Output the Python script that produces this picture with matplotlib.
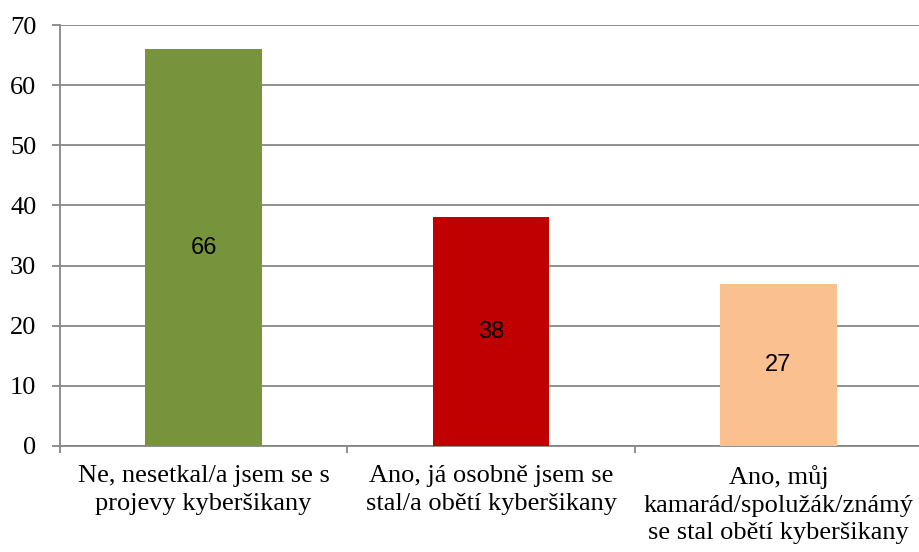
import matplotlib
matplotlib.use("Agg")
import matplotlib.pyplot as plt
from matplotlib.ticker import FixedLocator, NullFormatter

categories = ["Ne, nesetkal/a jsem se s\nprojevy kyberšikany",
              "Ano, já osobně jsem se\nstal/a obětí kyberšikany",
              "Ano, můj\nkamarád/spolužák/známý\nse stal obětí kyberšikany"]
values = [66, 38, 27]
colors = ["#77933C", "#C00000", "#FAC090"]
yticks = [0, 10, 20, 30, 40, 50, 60, 70]

fig = plt.figure(figsize=(9.2, 5.52), dpi=100)
ax = fig.add_axes([60/920, 106/552, 862/920, 421/552])
x = list(range(len(categories)))
bars = ax.bar(x, values, width=0.405, color=colors, zorder=3)
for xi, v in zip(x, values):
    ax.text(xi, v/2, str(v), ha="center", va="center", fontsize=17,
            family="Liberation Sans", color="black", zorder=4)

ax.set_xlim(-0.5, 2.5)
ax.set_ylim(0, 70)
ax.set_yticks(yticks)
ax.set_yticklabels([str(t) for t in yticks], family="Liberation Serif", fontsize=19)
ax.yaxis.grid(True, color="#868686", linewidth=1.3, zorder=0)
ax.set_xticks(x)
ax.set_xticklabels(categories, family="Liberation Serif", fontsize=19, linespacing=1.3)
ax.xaxis.set_minor_locator(FixedLocator([-0.5, 0.5, 1.5, 2.5]))
ax.xaxis.set_minor_formatter(NullFormatter())
ax.tick_params(axis="x", which="major", length=0, pad=14)
ax.tick_params(axis="x", which="minor", length=5, width=1.3, color="#868686")
ax.tick_params(axis="y", length=6, width=1.3, color="#868686", pad=11)
for s in ["top", "right"]:
    ax.spines[s].set_visible(False)
for s in ["left", "bottom"]:
    ax.spines[s].set_color("#868686")
    ax.spines[s].set_linewidth(1.3)
fig.savefig("out.png", dpi=100)
